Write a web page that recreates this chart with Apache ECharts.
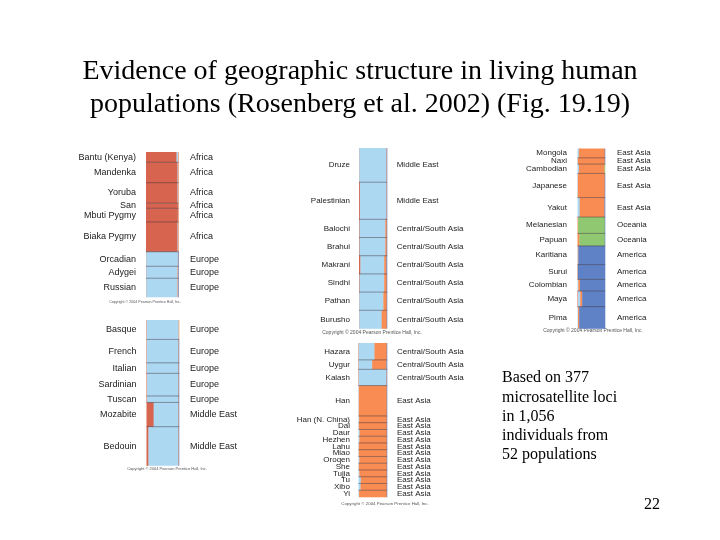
<!DOCTYPE html>
<html><head><meta charset="utf-8">
<script src="https://cdn.jsdelivr.net/npm/echarts@6/dist/echarts.min.js"></script>
<style>html,body{margin:0;padding:0;background:#fff}#chart{width:720px;height:540px}</style>
</head><body><div id="chart"></div>
<script>
// Inferred clusters (K = 5), stacked left to right in this order
const clusterNames = ['Africa', 'Eurasia', 'East Asia', 'Oceania', 'America'];
const clusterColors = ['#d6644f', '#acd8f2', '#f88c53', '#8fc870', '#5f82c6'];

// Panel A
const popsA = ['Bantu (Kenya)', 'Mandenka', 'Yoruba', 'San', 'Mbuti Pygmy', 'Biaka Pygmy', 'Orcadian', 'Adygei', 'Russian'];
const regionsA = ['Africa', 'Africa', 'Africa', 'Africa', 'Africa', 'Africa', 'Europe', 'Europe', 'Europe'];
const sizesA = [12, 24, 24, 6, 16, 35, 17, 14, 22];
const memberA = [
  [0.94, 0.05, 0.01, 0, 0], [0.97, 0.02, 0.01, 0, 0], [0.97, 0.02, 0.01, 0, 0],
  [0.98, 0.01, 0.01, 0, 0], [0.98, 0.01, 0.01, 0, 0], [0.97, 0.02, 0.01, 0, 0],
  [0.01, 0.97, 0.01, 0, 0.01], [0.01, 0.96, 0.02, 0, 0.01], [0.01, 0.96, 0.02, 0, 0.01]
];
// Panel B
const popsB = ['Basque', 'French', 'Italian', 'Sardinian', 'Tuscan', 'Mozabite', 'Bedouin'];
const regionsB = ['Europe', 'Europe', 'Europe', 'Europe', 'Europe', 'Middle East', 'Middle East'];
const sizesB = [24, 29, 13, 28, 8, 30, 48];
const memberB = [
  [0.01, 0.98, 0.01, 0, 0], [0.01, 0.97, 0.01, 0, 0.01], [0.01, 0.97, 0.01, 0, 0.01],
  [0.02, 0.96, 0.01, 0, 0.01], [0.02, 0.96, 0.01, 0, 0.01], [0.22, 0.76, 0.01, 0, 0.01],
  [0.06, 0.92, 0.01, 0, 0.01]
];
// Panel C
const popsC = ['Druze', 'Palestinian', 'Balochi', 'Brahui', 'Makrani', 'Sindhi', 'Pathan', 'Burusho'];
const regionsC = ['Middle East', 'Middle East', 'Central/South Asia', 'Central/South Asia', 'Central/South Asia', 'Central/South Asia', 'Central/South Asia', 'Central/South Asia'];
const sizesC = [47, 51, 25, 25, 25, 25, 25, 25];
const memberC = [
  [0.01, 0.97, 0.01, 0, 0.01], [0.03, 0.95, 0.01, 0, 0.01], [0.02, 0.92, 0.05, 0, 0.01],
  [0.02, 0.92, 0.05, 0, 0.01], [0.05, 0.85, 0.08, 0, 0.02], [0.02, 0.88, 0.09, 0, 0.01],
  [0.01, 0.86, 0.12, 0, 0.01], [0.01, 0.80, 0.18, 0, 0.01]
];
// Panel D
const popsD = ['Hazara', 'Uygur', 'Kalash', 'Han', 'Han (N. China)', 'Dai', 'Daur', 'Hezhen', 'Lahu', 'Miao', 'Oroqen', 'She', 'Tujia', 'Tu', 'Xibo', 'Yi'];
const regionsD = ['Central/South Asia', 'Central/South Asia', 'Central/South Asia', 'East Asia', 'East Asia', 'East Asia', 'East Asia', 'East Asia', 'East Asia', 'East Asia', 'East Asia', 'East Asia', 'East Asia', 'East Asia', 'East Asia', 'East Asia'];
const sizesD = [25, 14, 24, 45, 10, 10, 10, 10, 10, 10, 10, 10, 10, 10, 10, 10];
const memberD = [
  [0.01, 0.55, 0.43, 0, 0.01], [0.01, 0.47, 0.50, 0, 0.02], [0.01, 0.97, 0.01, 0, 0.01],
  [0, 0.01, 0.98, 0, 0.01], [0, 0.02, 0.97, 0, 0.01], [0, 0.01, 0.98, 0, 0.01],
  [0, 0.04, 0.95, 0, 0.01], [0, 0.03, 0.96, 0, 0.01], [0, 0.01, 0.98, 0, 0.01],
  [0, 0.01, 0.98, 0, 0.01], [0, 0.03, 0.96, 0, 0.01], [0, 0.01, 0.98, 0, 0.01],
  [0, 0.03, 0.96, 0, 0.01], [0, 0.08, 0.91, 0, 0.01], [0, 0.07, 0.92, 0, 0.01],
  [0, 0.02, 0.97, 0, 0.01]
];
// Panel E
const popsE = ['Mongola', 'Naxi', 'Cambodian', 'Japanese', 'Yakut', 'Melanesian', 'Papuan', 'Karitiana', 'Surui', 'Colombian', 'Maya', 'Pima'];
const regionsE = ['East Asia', 'East Asia', 'East Asia', 'East Asia', 'East Asia', 'Oceania', 'Oceania', 'America', 'America', 'America', 'America', 'America'];
const sizesE = [12, 8, 12, 31, 25, 21, 16, 24, 19, 15, 20, 28];
const memberE = [
  [0, 0.05, 0.94, 0, 0.01], [0, 0.01, 0.98, 0, 0.01], [0, 0.05, 0.93, 0.02, 0],
  [0, 0.01, 0.98, 0, 0.01], [0, 0.08, 0.90, 0, 0.02], [0, 0, 0.02, 0.97, 0.01],
  [0, 0, 0.07, 0.92, 0.01], [0, 0.01, 0.02, 0, 0.97], [0, 0, 0.01, 0, 0.99],
  [0, 0.03, 0.06, 0, 0.91], [0.02, 0.08, 0.07, 0, 0.83], [0, 0.02, 0.04, 0, 0.94]
];

const copyrightText = 'Copyright \u00a9 2004 Pearson Prentice Hall, Inc.';
const titleLines = ['Evidence of geographic structure in living human', 'populations (Rosenberg et al. 2002) (Fig. 19.19)'];
const noteLines = ['Based on 377', 'microsatellite loci', 'in 1,056', 'individuals from', '52 populations'];
const pageNumber = '22';

const panels = [
  { pops: popsA, regions: regionsA, sizes: sizesA, member: memberA },
  { pops: popsB, regions: regionsB, sizes: sizesB, member: memberB },
  { pops: popsC, regions: regionsC, sizes: sizesC, member: memberC },
  { pops: popsD, regions: regionsD, sizes: sizesD, member: memberD },
  { pops: popsE, regions: regionsE, sizes: sizesE, member: memberE }
];
// layout (pixels)
const layout = [
  { left: 146, top: 152, width: 32.5, height: 145, gapL: 10, gapR: 11.5, font: 9, cx: 145, cy: 302, cfont: 3.6 },
  { left: 146.5, top: 320, width: 32.5, height: 145.5, gapL: 10, gapR: 11, font: 9, cx: 167, cy: 469, cfont: 4 },
  { left: 359, top: 148, width: 28, height: 180.5, gapL: 9, gapR: 9.7, font: 8, cx: 372, cy: 333, cfont: 5 },
  { left: 358.5, top: 343, width: 28.5, height: 154, gapL: 8.5, gapR: 10, font: 8, cx: 385, cy: 504, cfont: 4.4 },
  { left: 577.5, top: 148.5, width: 27.5, height: 180, gapL: 10.5, gapR: 12, font: 8, cx: 593, cy: 331, cfont: 5 }
];

const grids = [], xAxes = [], yAxes = [], series = [];
panels.forEach((p, pi) => {
  const L = layout[pi];
  const cum = [0];
  p.sizes.forEach(s => cum.push(cum[cum.length - 1] + s));
  grids.push({ left: L.left, top: L.top, width: L.width, height: L.height });
  xAxes.push({ type: 'value', gridIndex: pi, min: 0, max: 1, show: false });
  yAxes.push({ type: 'value', gridIndex: pi, min: 0, max: cum[cum.length - 1], inverse: true, show: false });
  series.push({
    type: 'custom', xAxisIndex: pi, yAxisIndex: pi, clip: false, silent: true,
    encode: { x: 0, y: 1 },
    data: p.pops.map((name, i) => [0.5, (cum[i] + cum[i + 1]) / 2, i]),
    renderItem: function (params, api) {
      const i = api.value(2);
      const y0 = api.coord([0, cum[i]])[1];
      const y1 = api.coord([0, cum[i + 1]])[1];
      const xL = api.coord([0, 0])[0];
      const xR = api.coord([1, 0])[0];
      const fr = p.member[i];
      const tot = fr.reduce((a, b) => a + b, 0);
      let acc = 0;
      const children = [];
      fr.forEach((f, k) => {
        if (f <= 0) return;
        const xa = api.coord([acc / tot, 0])[0];
        acc += f;
        const xb = api.coord([acc / tot, 0])[0];
        children.push({ type: 'rect', shape: { x: xa, y: y0, width: xb - xa + 0.3, height: y1 - y0 + 0.3 }, style: { fill: clusterColors[k] } });
      });
      if (i > 0) {
        children.push({ type: 'line', shape: { x1: xL, y1: y0, x2: xR, y2: y0 }, style: { stroke: 'rgba(60,50,60,0.6)', lineWidth: 0.8 } });
      }
      const ym = (y0 + y1) / 2;
      children.push({ type: 'text', style: { text: p.pops[i], x: xL - L.gapL, y: ym, align: 'right', verticalAlign: 'middle', fontSize: L.font, fontFamily: 'Liberation Sans', fill: '#222' } });
      children.push({ type: 'text', style: { text: p.regions[i], x: xR + L.gapR, y: ym, align: 'left', verticalAlign: 'middle', fontSize: L.font, fontFamily: 'Liberation Sans', fill: '#222' } });
      return { type: 'group', children: children };
    }
  });
});

const graphics = [];
titleLines.forEach((t, i) => graphics.push({ type: 'text', x: 360, y: 72 + i * 33, style: { text: t, align: 'center', verticalAlign: 'middle', fontSize: 28, fontFamily: 'Liberation Serif', fill: '#000' } }));
noteLines.forEach((t, i) => graphics.push({ type: 'text', x: 502, y: 378 + i * 19.3, style: { text: t, align: 'left', verticalAlign: 'middle', fontSize: 16, fontFamily: 'Liberation Serif', fill: '#000' } }));
graphics.push({ type: 'text', x: 660, y: 505, style: { text: pageNumber, align: 'right', verticalAlign: 'middle', fontSize: 16, fontFamily: 'Liberation Serif', fill: '#000' } });
layout.forEach(L => graphics.push({ type: 'text', x: L.cx, y: L.cy, style: { text: copyrightText, align: 'center', verticalAlign: 'middle', fontSize: L.cfont, fontFamily: 'Liberation Sans', fill: '#555' } }));

const chart = echarts.init(document.getElementById('chart'), null, { renderer: 'canvas' });
chart.setOption({
  backgroundColor: '#ffffff',
  animation: false,
  grid: grids, xAxis: xAxes, yAxis: yAxes, series: series,
  graphic: graphics
});
</script></body></html>
